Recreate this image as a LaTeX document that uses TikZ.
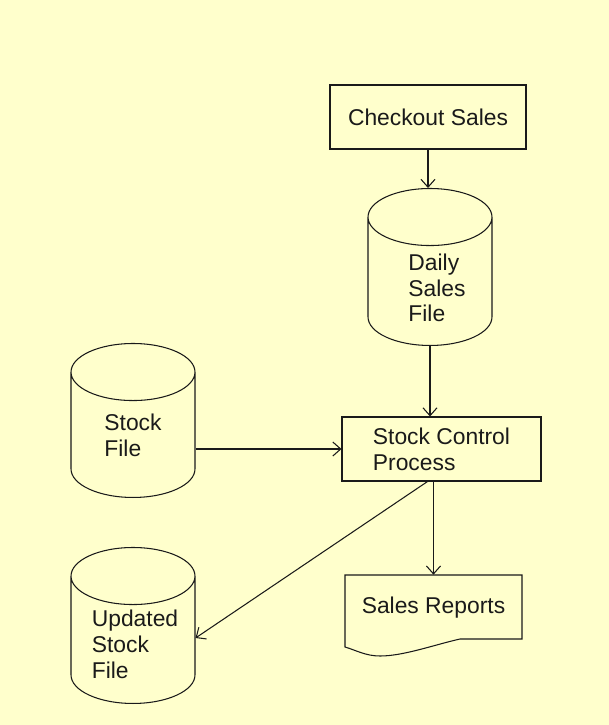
\documentclass[tikz,border=0pt]{standalone}
\usepackage{fontspec}
\setmainfont{Liberation Sans}
\usetikzlibrary{shapes.geometric,arrows.meta}
\definecolor{paper}{HTML}{FFFFCC}
\definecolor{ink}{HTML}{1A1A1A}
\tikzset{
  every node/.style={font=\fontsize{13}{14.7}\selectfont, text=ink},
  procbox/.style={draw=ink, rectangle, line width=0.6pt, inner sep=0pt},
  datastore/.style={draw=ink, cylinder, shape border rotate=90, aspect=0.46,
    line width=0.6pt, inner sep=0pt, text width=2.48cm},
  flow/.style={draw=ink, line width=0.6pt, -{Straight Barb[length=4.5pt,width=8pt]}}
}
\begin{document}
\begin{tikzpicture}[x=0.02cm, y=-0.02cm]
  %sfondo
  \fill[paper] (0,0) rectangle (609,725);
  %processi
  \node[procbox, minimum width=3.92cm, minimum height=1.28cm] (chk) at (428,117) {Checkout Sales};
  \node[procbox, minimum width=3.98cm, minimum height=1.28cm, align=left] (proc) at (441.5,449) {Stock Control\\Process};
  %archivi
  \node[datastore, minimum height=3.14cm,
    label={[align=left, xshift=0.14cm, yshift=-0.13cm]center:Daily\\Sales\\File}] (daily) at (430,281.5) {};
  \node[datastore, minimum height=3.08cm,
    label={[align=left]center:Stock\\File}] (stock) at (133,435) {};
  \node[datastore, minimum height=3.12cm,
    label={[align=left, xshift=0.04cm, yshift=-0.08cm]center:Updated\\Stock\\File}] (upd) at (133,640) {};
  %documento
  \node[minimum width=3.54cm, minimum height=1.32cm, inner sep=0pt] (rep) at (433.5,608) {Sales Reports};
  \begin{scope}[shift={(rep.center)}]
    \draw[ink, line width=0.6pt] (-88.5,-33) -- (88.5,-33) -- (88.5,31) -- (26.5,31)
      .. controls (0,37) and (-30,48) .. (-53.5,48)
      .. controls (-68,48) and (-78,42) .. (-88.5,39) -- cycle;
  \end{scope}
  %flussi
  \draw[flow] (chk.south) -- (chk.south |- daily.north);
  \draw[flow] (daily.south) -- (daily.south |- proc.north);
  \draw[flow] (stock.east |- proc.west) -- (proc.west);
  \draw[flow] (rep.north |- proc.south) -- (rep.north);
  \draw[flow] ([xshift=-0.28cm]proc.south) -- ([yshift=0.04cm]upd.east);
\end{tikzpicture}
\end{document}
